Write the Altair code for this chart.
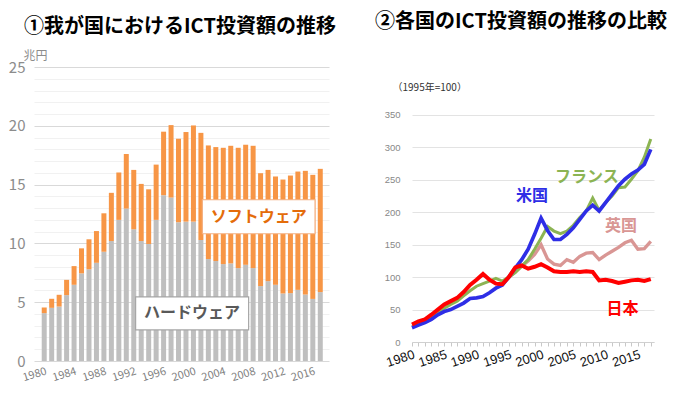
import altair as alt
import pandas as pd

# ---------------- data ----------------
years = list(range(1980, 2018))
hardware = [4.07, 4.52, 4.63, 5.6, 6.48, 7.45, 7.8, 8.35, 9.29, 10.2,
            12.0, 12.96, 11.2, 10.2, 9.95, 12.0, 14.1, 13.9, 11.8, 11.85,
            11.85, 10.29, 8.67, 8.5, 8.24, 8.3, 7.9, 8.18, 7.9, 6.37,
            6.79, 6.48, 5.74, 5.77, 6.05, 5.65, 5.28, 5.86]
software = [0.48, 0.77, 1.0, 1.3, 1.59, 2.13, 2.55, 2.7, 3.27, 4.1,
            4.03, 4.64, 5.05, 4.86, 4.65, 4.7, 5.4, 6.16, 7.1, 7.62,
            8.18, 9.11, 9.66, 9.69, 9.89, 10.0, 10.23, 10.21, 10.4, 9.6,
            9.46, 9.21, 9.69, 10.0, 10.06, 10.52, 10.55, 10.48]
parts = ["ハードウェア", "ソフトウェア"]
left_ticks = list(range(1980, 2017, 4))

countries = ["日本", "米国", "英国", "フランス"]
japan = [27, 32, 35, 42, 50, 58, 63, 68, 77, 88,
         96, 105, 96, 90, 89, 100, 115, 118, 113, 116,
         120, 115, 109, 108, 108, 109, 108, 109, 108, 95,
         96, 94, 91, 93, 95, 96, 94, 97]
us = [22, 26, 30, 35, 42, 47, 50, 55, 60, 67,
      68, 70, 76, 83, 88, 100, 114, 127, 143, 166,
      191, 172, 158, 158, 166, 176, 189, 202, 211, 202,
      215, 228, 241, 251, 259, 265, 274, 297]
france = [24, 28, 32, 38, 45, 52, 58, 63, 71, 79,
          86, 90, 94, 98, 94, 100, 107, 117, 127, 143,
          160, 178, 171, 167, 171, 180, 192, 202, 222, 203,
          215, 225, 238, 239, 251, 264, 285, 313]
uk_years = list(range(1995, 2018))
uk = [100, 108, 117, 125, 135, 150, 128, 120, 118, 127,
      123, 132, 137, 138, 127, 134, 140, 146, 153, 157,
      143, 144, 155]
right_ticks = list(range(0, 351, 50))

JP = "Noto Sans CJK JP"
NUM = "Liberation Sans"

# ---------------- tables ----------------
rows = []
for y, h, s in zip(years, hardware, software):
    rows.append({"year": y, "part": parts[0], "value": h, "k": 0})
    rows.append({"year": y, "part": parts[1], "value": s, "k": 1})
bars_df = pd.DataFrame(rows)

box_df = pd.DataFrame({
    "label": ["ソフトウェア", "ハードウェア"],
    "xc": [2008.75, 1999.8],
    "xa": [2001.2, 1992.25],
    "xb": [2016.3, 2007.4],
    "yc": [12.27, 4.05],
    "ya": [10.82, 2.64],
    "yb": [13.71, 5.45],
})

lrows = []
for c, vals, ys in [("英国", uk, uk_years), ("フランス", france, years),
                    ("米国", us, years), ("日本", japan, years)]:
    for y, v in zip(ys, vals):
        lrows.append({"country": c, "year": y, "value": v})
lines_df = pd.DataFrame(lrows)

lab_df = pd.DataFrame({
    "country": ["米国", "フランス", "英国", "日本"],
    "x": [1998.6, 2007.1, 2012.4, 2012.6],
    "y": [225, 254, 179, 51],
})

# ---------------- left chart ----------------
xL = alt.Scale(domain=[1979.3, 2017.5], nice=False, zero=False)
yL = alt.Scale(domain=[0, 25], nice=False, zero=True)
axL_x = alt.Axis(values=left_ticks, format="d", labelAngle=-17,
                 labelAlign="right", labelBaseline="top", labelPadding=4,
                 labelFontSize=11, labelColor="#808080", labelFont=JP,
                 grid=False, domain=False, ticks=False, labelOverlap=False, title=None)
axL_y = alt.Axis(values=list(range(0, 26)),
                 labelExpr="datum.value % 5 === 0 ? datum.label : ''",
                 labelOverlap=False, labelFontSize=15, labelColor="#8c8c8c",
                 labelFont=JP, labelPadding=9, domain=False, ticks=False,
                 gridColor={"condition": {"test": "datum.value % 5 === 0", "value": "#d9d9d9"},
                            "value": "#f1f1f1"},
                 title="兆円", titleAngle=0, titleAlign="left",
                 titleBaseline="alphabetic", titleX=-11, titleY=-8,
                 titleFontSize=12, titleFontWeight="normal",
                 titleColor="#8c8c8c", titleFont=JP)

bars = alt.Chart(bars_df).mark_bar(size=5).encode(
    x=alt.X("year:Q", scale=xL, axis=axL_x),
    y=alt.Y("value:Q", stack="zero", scale=yL, axis=axL_y),
    color=alt.Color("part:N", scale=alt.Scale(domain=parts, range=["#bfbfbf", "#f79646"]),
                    legend=None),
    order=alt.Order("k:Q"),
)

is_soft = "datum.label === 'ソフトウェア'"
boxes = alt.Chart(box_df).mark_rect(fill="white", strokeWidth=1.2).encode(
    x=alt.X("xa:Q", scale=xL, axis=axL_x),
    x2="xb:Q",
    y=alt.Y("ya:Q", scale=yL, axis=axL_y),
    y2="yb:Q",
    stroke=alt.condition(is_soft, alt.value("#f4b183"), alt.value("#a6a6a6")),
)
box_text = alt.Chart(box_df).mark_text(font=JP, fontSize=16, fontWeight="bold").encode(
    x=alt.X("xc:Q", scale=xL, axis=axL_x),
    y=alt.Y("yc:Q", scale=yL, axis=axL_y),
    text="label:N",
    color=alt.condition(is_soft, alt.value("#e46c0a"), alt.value("#595959")),
)

left = alt.layer(bars, boxes, box_text).properties(
    width=295, height=294,
    title=alt.TitleParams("①我が国におけるICT投資額の推移", anchor="start", frame="group",
                          dx=-10, offset=12, fontSize=20, font=JP, fontWeight="bold",
                          color="#000000"),
)

# ---------------- right chart ----------------
xR = alt.Scale(domain=[1980, 2017.5], nice=False, zero=False)
# headroom above 350 leaves space for the index note, as in the original
yR = alt.Scale(domain=[0, 424], nice=False)
cscale = alt.Scale(domain=countries, range=["#ff0000", "#2e2ee6", "#d99694", "#8cb453"])
axR_x = alt.Axis(values=years, format="d",
                 labelExpr="datum.value % 5 === 0 ? datum.label : ''",
                 labelAngle=-18, labelAlign="right", labelBaseline="top",
                 labelPadding=2, labelFontSize=13, labelColor="#111111",
                 labelFont=NUM, labelOverlap=False, grid=False,
                 domainColor="#d0d0d0", tickColor="#c8c8c8", tickSize=4, title=None)
axR_y = alt.Axis(values=right_ticks, labelFontSize=9.5, labelColor="#888888",
                 labelFont=NUM, labelPadding=12, domain=False, ticks=False,
                 gridColor="#e3e3e3",
                 title="（1995年=100）", titleAngle=0, titleAlign="left",
                 titleBaseline="alphabetic", titleX=-20, titleY=23,
                 titleFontSize=10, titleFontWeight="normal",
                 titleColor="#333333", titleFont=JP)

lines = alt.Chart(lines_df).mark_line().encode(
    x=alt.X("year:Q", scale=xR, axis=axR_x),
    y=alt.Y("value:Q", scale=yR, axis=axR_y),
    color=alt.Color("country:N", scale=cscale, legend=None),
    strokeWidth=alt.StrokeWidth("country:N",
                                scale=alt.Scale(domain=countries, range=[4, 3, 2.5, 3]),
                                legend=None),
    detail="country:N",
)

labels = alt.Chart(lab_df).mark_text(font=JP, fontSize=16, fontWeight="bold").encode(
    x=alt.X("x:Q", scale=xR, axis=axR_x),
    y=alt.Y("y:Q", scale=yR, axis=axR_y),
    text="country:N",
    color=alt.Color("country:N", scale=cscale, legend=None),
)

right = alt.layer(lines, labels).properties(
    width=242, height=275,
    title=alt.TitleParams("②各国のICT投資額の推移の比較", anchor="start", frame="group",
                          dx=-37, offset=35, fontSize=20, font=JP, fontWeight="bold",
                          color="#000000"),
)

chart = alt.hconcat(left, right, spacing=39).resolve_scale(
    color="independent", strokeWidth="independent"
).properties(
    padding={"left": 0, "top": 4, "right": 2, "bottom": 2}
).configure_view(stroke=None)

chart.save("out.html", embed_options={"renderer": "svg", "actions": False})
